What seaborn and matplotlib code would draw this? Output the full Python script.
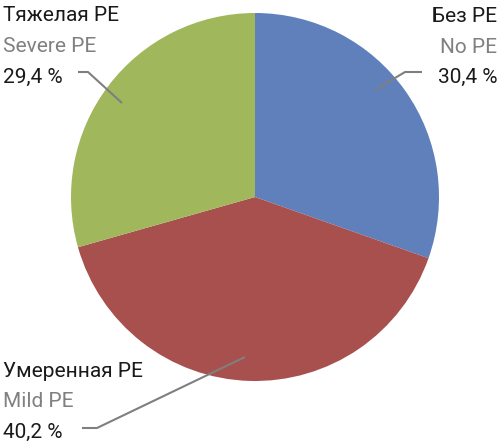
import matplotlib
matplotlib.use("Agg")
import matplotlib.pyplot as plt
import seaborn as sns

# Data
categories_ru = ["Без PE", "Умеренная PE", "Тяжелая PE"]
categories_en = ["No PE", "Mild PE", "Severe PE"]
values = [30.4, 40.2, 29.4]
value_labels = ["30,4 %", "40,2 %", "29,4 %"]
colors = ["#6080BC", "#A8504E", "#A0B75C"]

sns.set_theme(style="white")
plt.rcParams['font.family'] = ['Liberation Sans Narrow', 'Roboto', 'DejaVu Sans']

W, H = 500, 444
fig = plt.figure(figsize=(W / 100, H / 100), dpi=100)
ax = fig.add_axes([0, 0, 1, 1])

cx, cy, R = 255, 197, 184  # pixel center and radius

def P(x, y):
    return ((x - cx) / R, (cy - y) / R)

ax.pie(values, colors=colors, startangle=90, counterclock=False,
       radius=1, center=(0, 0), wedgeprops=dict(linewidth=0))

ax.set_xlim(-cx / R, (W - cx) / R)
ax.set_ylim(-(H - cy) / R, cy / R)
ax.set_aspect('equal')
ax.axis('off')

fs = 15
gray_text = "#808080"
line_col = "#7f7f7f"

def label_block(x, baselines, idx, ha):
    ax.text(*P(x, baselines[0]), categories_ru[idx], ha=ha, va='baseline',
            fontsize=fs, color='#1a1a1a')
    ax.text(*P(x, baselines[1]), categories_en[idx], ha=ha, va='baseline',
            fontsize=fs, color=gray_text)
    ax.text(*P(x, baselines[2]), value_labels[idx], ha=ha, va='baseline',
            fontsize=fs, color='#1a1a1a')

label_block(497, [22, 53, 83], 0, 'right')
label_block(3, [377, 407, 438], 1, 'left')
label_block(3, [21, 52, 83], 2, 'left')

def leader(pts):
    xs, ys = zip(*[P(x, y) for x, y in pts])
    ax.plot(xs, ys, color=line_col, lw=1.5, solid_capstyle='butt')

leader([(422, 72), (405, 72), (375, 90)])
leader([(78, 72), (88, 72), (122, 103)])
leader([(82, 428), (97, 428), (245, 357)])

fig.savefig("out.png", dpi=100)
